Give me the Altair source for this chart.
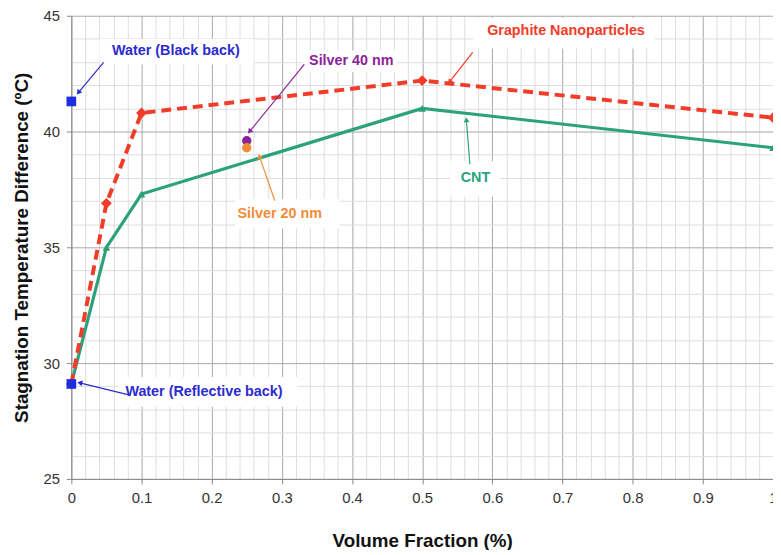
import math
import altair as alt
import pandas as pd

# ---------------- data ----------------
vol_fraction = [0, 0.05, 0.1, 0.5, 1.0]
graphite_temp = [29.1, 36.9, 40.8, 42.2, 40.6]
cnt_temp = [29.1, 35.0, 37.3, 41.0, 39.3]

silver_vf = [0.25, 0.25]
silver_temp = [39.6, 39.3]
silver_names = ["Silver 40 nm", "Silver 20 nm"]

water_vf = [0, 0]
water_temp = [41.3, 29.1]
water_names = ["Water (Black back)", "Water (Reflective back)"]

x_ticks = [round(i * 0.02, 2) for i in range(51)]
y_ticks = list(range(25, 46))

label_text = ["Water (Black back)", "Silver 40 nm", "Graphite Nanoparticles",
              "CNT", "Silver 20 nm", "Water (Reflective back)"]
label_x = [0.149, 0.399, 0.705, 0.576, 0.297, 0.189]
label_y = [43.46, 43.03, 44.32, 37.99, 36.45, 28.76]

arrow_tail_x = [0.046, 0.332, 0.572, 0.568, 0.290, 0.082]
arrow_tail_y = [42.99, 42.90, 43.42, 38.59, 37.01, 28.63]
arrow_head_x = [0.010, 0.254, 0.539, 0.563, 0.268, 0.012]
arrow_head_y = [41.68, 40.00, 42.14, 40.51, 38.93, 29.15]

box_x0 = [0.040, 0.329, 0.573, 0.540, 0.233, 0.068]
box_x1 = [0.260, 0.463, 0.832, 0.611, 0.382, 0.322]
box_y0 = [42.90, 42.56, 43.59, 37.18, 35.81, 28.12]
box_y1 = [44.00, 43.50, 44.91, 38.72, 37.09, 29.40]

# ---------------- styles ----------------
RED = "#f03c28"
GREEN = "#2ba27b"
PURPLE = "#8b2396"
ORANGE = "#f28c38"
BLUE = "#1f2de0"
TXTBLUE = "#2b2bd0"
label_colors = [TXTBLUE, PURPLE, RED, GREEN, ORANGE, TXTBLUE]

W, H = 709, 468
XMIN, XMAX, YMIN, YMAX = 0, 1, 25, 45

MAJ_X = "abs(datum.value*10 - round(datum.value*10)) < 0.001"
MAJ_Y = "abs(datum.value/5 - round(datum.value/5)) < 0.001"

xaxis = alt.Axis(
    values=x_ticks,
    labelExpr=f"({MAJ_X}) ? format(datum.value, '.1~f') : ''",
    gridColor={"condition": {"test": MAJ_X, "value": "#a6a6a6"}, "value": "#dedede"},
    tickColor={"condition": {"test": MAJ_X, "value": "#888888"}, "value": "transparent"},
    tickSize=5, labelPadding=7, labelFontSize=15, labelColor="#333333",
    titleFontSize=19, titleFontWeight="bold", titleColor="#111111", titlePadding=26,
    domainColor="#888888", labelOverlap=False, labelFlush=False,
)
yaxis = alt.Axis(
    values=y_ticks,
    labelExpr=f"({MAJ_Y}) ? format(datum.value, 'd') : ''",
    gridColor={"condition": {"test": MAJ_Y, "value": "#a6a6a6"}, "value": "#dedede"},
    tickColor={"condition": {"test": MAJ_Y, "value": "#888888"}, "value": "transparent"},
    tickSize=5, labelPadding=7, labelFontSize=15, labelColor="#333333",
    titleFontSize=19, titleFontWeight="bold", titleColor="#111111", titlePadding=12,
    domainColor="#888888", labelOverlap=False, labelFlush=False,
)
xscale = alt.Scale(domain=[XMIN, XMAX], nice=False)
yscale = alt.Scale(domain=[YMIN, YMAX], nice=False)


def X(field):
    return alt.X(f"{field}:Q", scale=xscale, axis=xaxis, title="Volume Fraction (%)")


def Y(field):
    return alt.Y(f"{field}:Q", scale=yscale, axis=yaxis,
                 title="Stagnation Temperature Difference (ºC)")


# ---------------- tables ----------------
series_df = pd.DataFrame({"x": vol_fraction, "g": graphite_temp, "c": cnt_temp})
silver_df = pd.DataFrame({"x": silver_vf, "y": silver_temp, "name": silver_names,
                          "col": [PURPLE, ORANGE]})
water_df = pd.DataFrame({"x": water_vf, "y": water_temp, "name": water_names})
labels_df = pd.DataFrame({"x": label_x, "y": label_y, "t": label_text, "col": label_colors})
boxes_df = pd.DataFrame({"x0": box_x0, "x1": box_x1, "y0": box_y0, "y1": box_y1})

angles = []
for tx, ty, hx, hy in zip(arrow_tail_x, arrow_tail_y, arrow_head_x, arrow_head_y):
    dxp = (hx - tx) * W / (XMAX - XMIN)
    dyp = -(hy - ty) * H / (YMAX - YMIN)
    angles.append(math.degrees(math.atan2(dxp, -dyp)) % 360)
arrows_df = pd.DataFrame({"tx": arrow_tail_x, "ty": arrow_tail_y,
                          "hx": arrow_head_x, "hy": arrow_head_y,
                          "ang": angles, "col": label_colors})

# ---------------- layers ----------------
boxes = alt.Chart(boxes_df).mark_rect(color="white").encode(
    x=X("x0"), x2="x1", y=Y("y0"), y2="y1")

cnt_line = alt.Chart(series_df).mark_line(color=GREEN, strokeWidth=3.2).encode(
    x=X("x"), y=Y("c"))
cnt_pts = alt.Chart(series_df).mark_point(
    shape="triangle-up", filled=True, color=GREEN, size=60, opacity=1).encode(
    x=X("x"), y=Y("c"))

gr_line = alt.Chart(series_df).mark_line(
    color=RED, strokeWidth=4, strokeDash=[10, 6]).encode(x=X("x"), y=Y("g"))
gr_pts = alt.Chart(series_df).mark_point(
    shape="diamond", filled=True, color=RED, size=120, opacity=1).encode(
    x=X("x"), y=Y("g"))

silver_pts = alt.Chart(silver_df).mark_circle(size=90, opacity=1).encode(
    x=X("x"), y=Y("y"), color=alt.Color("col:N", scale=None))

water_pts = alt.Chart(water_df).mark_square(size=95, color=BLUE, opacity=1).encode(
    x=X("x"), y=Y("y"))

arrow_lines = alt.Chart(arrows_df).mark_rule(strokeWidth=1.2).encode(
    x=X("tx"), y=Y("ty"), x2="hx", y2="hy", color=alt.Color("col:N", scale=None))
arrow_heads = alt.Chart(arrows_df).mark_point(
    shape="triangle-up", filled=True, size=35, opacity=1).encode(
    x=X("hx"), y=Y("hy"), angle=alt.Angle("ang:Q", scale=None),
    color=alt.Color("col:N", scale=None))

labels = alt.Chart(labels_df).mark_text(
    fontSize=14.5, fontWeight="bold", font="Liberation Sans").encode(
    x=X("x"), y=Y("y"), text="t:N", color=alt.Color("col:N", scale=None))

chart = alt.layer(
    boxes, cnt_line, gr_line, cnt_pts, gr_pts, silver_pts, arrow_lines,
    arrow_heads, water_pts, labels,
).properties(
    width=W, height=H,
    autosize=alt.AutoSizeParams(type="none"),
    padding={"left": 64, "top": 5, "right": 0, "bottom": 69},
    background="white",
).configure(
    font="Liberation Sans",
).configure_view(stroke=None)

chart.save("out.html", embed_options={"renderer": "svg", "actions": False})
